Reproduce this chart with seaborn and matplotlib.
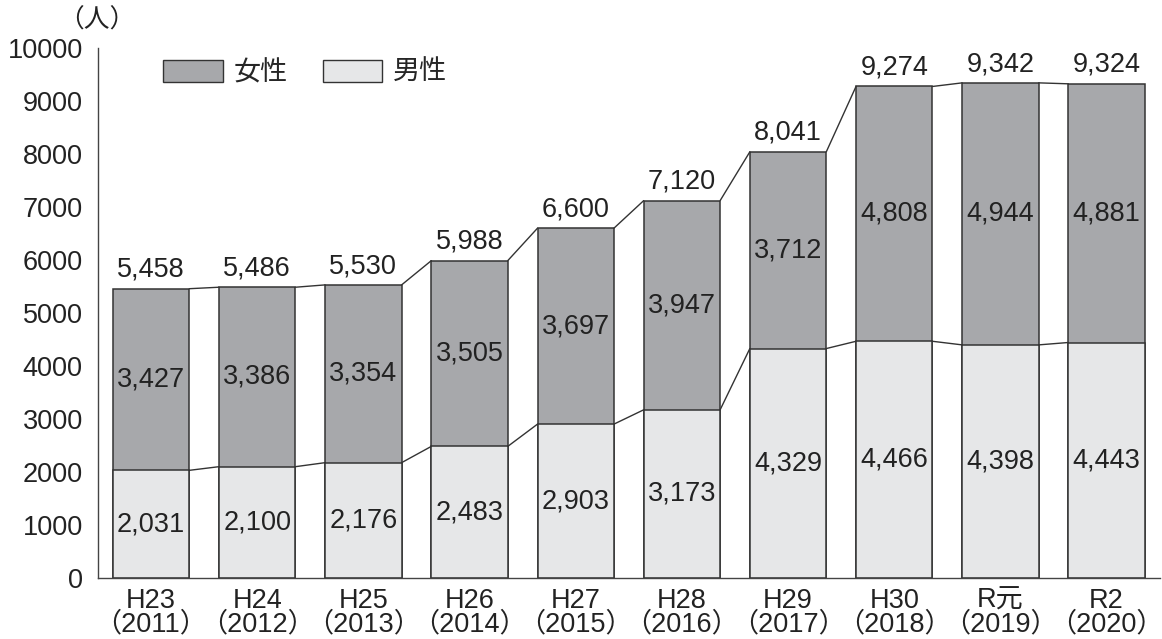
import matplotlib
matplotlib.use("Agg")
import matplotlib.pyplot as plt
import seaborn as sns
import pandas as pd
from matplotlib.patches import Patch
from matplotlib.ticker import FixedLocator

# --------------------------------------------------
# Data
# --------------------------------------------------
era = ["H23", "H24", "H25", "H26", "H27", "H28", "H29", "H30", "R元", "R2"]
years = ["2011", "2012", "2013", "2014", "2015", "2016", "2017", "2018", "2019", "2020"]
male = [2031, 2100, 2176, 2483, 2903, 3173, 4329, 4466, 4398, 4443]
female = [3427, 3386, 3354, 3505, 3697, 3947, 3712, 4808, 4944, 4881]

labels = [f"{e}\n（{y}）" for e, y in zip(era, years)]
df = pd.DataFrame({"label": labels, "male": male, "female": female})
df["total"] = df["male"] + df["female"]

# --------------------------------------------------
# Style
# --------------------------------------------------
sns.set_style("white")
plt.rcParams["font.family"] = ["Liberation Sans", "Noto Sans CJK JP", "DejaVu Sans"]

female_color = "#a7a8ab"
male_color = "#e6e7e8"
edge = "#333333"
fs = 19.5

fig = plt.figure(figsize=(11.62, 6.39), dpi=100)
ax = fig.add_axes([0.0843, 0.0955, 0.9137, 0.8294])

# total bar (female colour), then male bar over it
sns.barplot(data=df, x="label", y="total", color=female_color, saturation=1,
            width=0.72, edgecolor=edge, linewidth=1.1, ax=ax)
n = len(df)
sns.barplot(data=df, x="label", y="male", color=male_color, saturation=1,
            width=0.72, edgecolor=edge, linewidth=1.1, ax=ax)

total_bars = ax.patches[:n]
male_bars = ax.patches[n:2 * n]

# connecting lines between neighbouring bars
for bars in (total_bars, male_bars):
    for a, b in zip(bars[:-1], bars[1:]):
        ax.plot([a.get_x() + a.get_width(), b.get_x()],
                [a.get_height(), b.get_height()],
                color=edge, lw=1.0, zorder=3)

# value labels
for i, row in df.iterrows():
    ax.text(i, row["male"] / 2, f"{row['male']:,}", ha="center", va="center",
            fontsize=fs, color="#222222")
    ax.text(i, row["male"] + row["female"] / 2, f"{row['female']:,}",
            ha="center", va="center", fontsize=fs, color="#222222")
    ax.text(i, row["total"] + 110, f"{row['total']:,}", ha="center",
            va="bottom", fontsize=fs, color="#222222")

# axes
ax.set_xlim(-0.5, n - 0.5)
ax.set_ylim(0, 10000)
ax.set_yticks(range(0, 10001, 1000))
ax.set_xlabel("")
ax.set_ylabel("")
ax.tick_params(axis="y", direction="in", length=18, width=1.0, color="#555555",
               labelsize=fs, pad=11, labelcolor="#222222")
ax.tick_params(axis="x", which="major", length=0, labelsize=fs, pad=7,
               labelcolor="#222222")
ax.xaxis.set_minor_locator(FixedLocator([i + 0.5 for i in range(n)]))
ax.tick_params(axis="x", which="minor", direction="in", length=9, width=1.0,
               color="#555555")
for lab in ax.get_xticklabels():
    lab.set_linespacing(0.9)

sns.despine(ax=ax)
for s in ("left", "bottom"):
    ax.spines[s].set_color("#444444")
    ax.spines[s].set_linewidth(1.0)

# unit label
fig.text(0.083, 1 - 20 / 639, "（人）", ha="center", va="center",
         fontsize=fs - 1, color="#222222")

# legend
handles = [Patch(facecolor=female_color, edgecolor=edge, linewidth=1.0, label="女性"),
           Patch(facecolor=male_color, edgecolor=edge, linewidth=1.0, label="男性")]
fig.legend(handles=handles, loc="upper left", bbox_to_anchor=(163 / 1162, 1 - 60 / 639),
           ncol=2, frameon=False, fontsize=fs, handlelength=2.2, handleheight=0.85,
           handletextpad=0.4, columnspacing=1.3, borderpad=0, borderaxespad=0)

fig.savefig("out.png", dpi=100)
